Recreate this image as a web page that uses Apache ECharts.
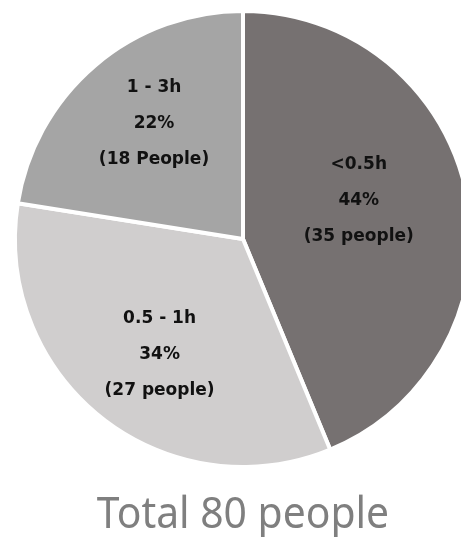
<!DOCTYPE html>
<html><head><meta charset="utf-8">
<script src="https://cdn.jsdelivr.net/npm/echarts@6/dist/echarts.min.js"></script>
<style>html,body{margin:0;padding:0;background:#fff}#c{width:461px;height:537px}</style>
</head><body><div id="c"></div>
<script>
const categories = ['<0.5h', '0.5 - 1h', '1 - 3h'];
const counts = [35, 27, 18];
const percents = ['44%', '34%', '22%'];
const peopleWord = ['people', 'people', 'People'];
const colors = ['#767171', '#d0cece', '#a5a5a5'];
const titleText = 'Total 80 people';
const labelOffsets = [[1, -16], [-11, 24], [-13, -26]];

const chart = echarts.init(document.getElementById('c'), null, {renderer: 'canvas'});
chart.setOption({
  animation: false,
  graphic: [{
    type: 'text',
    x: 243, y: 516,
    scaleX: 0.95,
    style: {
      text: titleText, align: 'center', verticalAlign: 'middle',
      font: '43px "Noto Sans"', fill: '#7f7f7f'
    }
  }],
  series: [{
    type: 'pie',
    center: [243, 239],
    radius: [0, 228],
    startAngle: 90,
    clockwise: true,
    data: categories.map((c, i) => ({name: c, value: counts[i], itemStyle: {color: colors[i]}})),
    itemStyle: {borderColor: '#fff', borderWidth: 4},
    label: {
      position: 'inside',
      formatter: p => p.name + '\n' + percents[p.dataIndex] + '\n(' + p.value + ' ' + peopleWord[p.dataIndex] + ')',
      fontFamily: 'DejaVu Sans', fontWeight: 'bold', fontSize: 17, lineHeight: 36, color: '#111'
    },
    labelLine: {show: false},
    labelLayout: p => ({dx: labelOffsets[p.dataIndex][0], dy: labelOffsets[p.dataIndex][1]})
  }]
});
</script></body></html>
